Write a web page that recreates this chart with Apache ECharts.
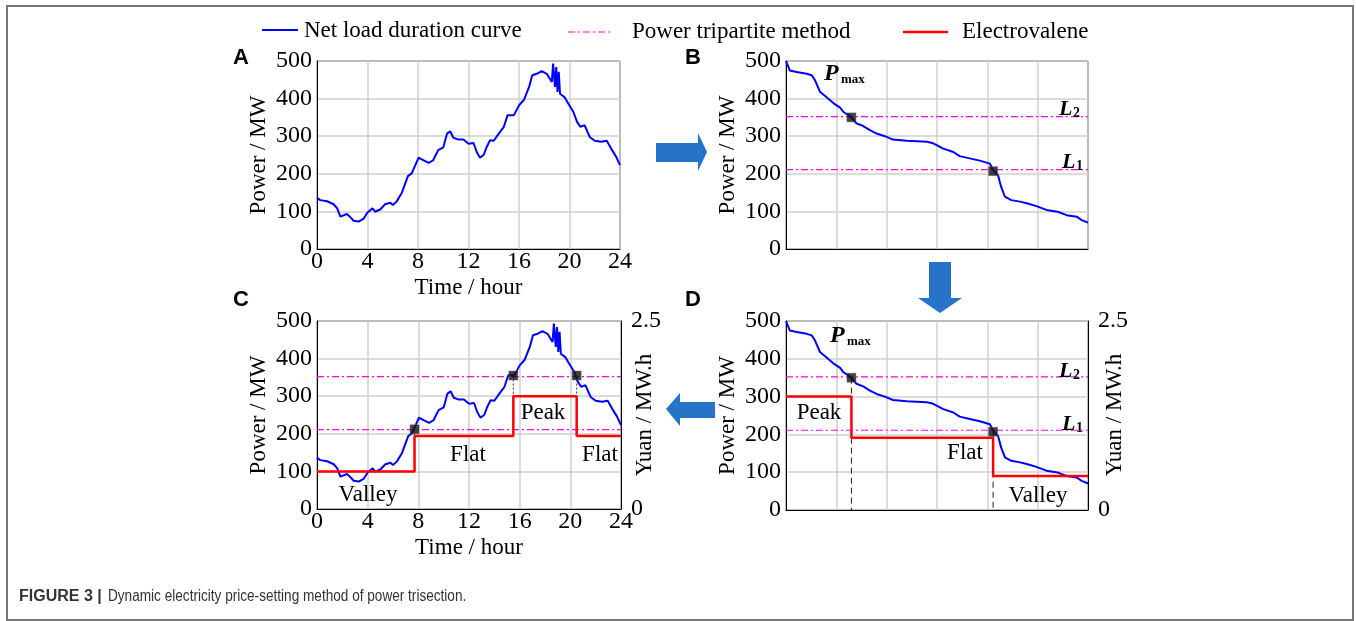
<!DOCTYPE html>
<html><head><meta charset="utf-8">
<script src="https://cdn.jsdelivr.net/npm/echarts@6/dist/echarts.min.js"></script>
<style>html,body{margin:0;padding:0;background:#fff}#c{width:1356px;height:621px}</style>
</head><body><div id="c"></div>
<script>
// ---- data ----
var loadHours = [0,0.26,0.8,1.32,1.6,1.85,2.37,2.6,2.9,3.3,3.7,4.0,4.4,4.6,5.0,5.4,5.8,6.0,6.3,6.7,7.2,7.5,8.05,8.45,8.85,9.2,9.6,10.0,10.3,10.55,10.8,11.2,11.6,12.0,12.4,12.65,12.9,13.2,13.45,13.7,14.0,14.4,14.8,15.1,15.6,16.0,16.4,16.8,17.05,17.4,17.8,18.2,18.6,18.7,18.85,18.95,19.05,19.15,19.25,19.4,19.6,19.9,20.3,20.6,20.85,21.2,21.6,22.0,22.5,22.95,23.3,23.7,24.0];
var loadMW =    [136,130,127,119,108,86,93,86,75,73,81,97,108,99,105,119,123,117,126,148,194,201,243,236,229,236,263,270,307,313,296,291,291,280,282,258,243,250,272,289,288,307,325,356,356,382,397,431,462,466,473,466,444,493,431,484,418,471,413,413,404,387,365,338,325,329,298,288,285,288,267,245,223];
var durHours = [0,0.3,0.85,1.64,2.04,2.3,2.7,3.2,3.76,4.3,4.55,5.16,5.6,6.14,6.67,7.2,7.86,8.5,9.6,11.2,11.7,12.5,13.3,13.8,14.6,15.4,16.2,16.46,16.85,17.1,17.4,17.9,18.6,19.2,19.9,20.7,21.6,22.3,23.1,23.5,24];
var durMW =    [500,475,471,466,462,449,418,404,388,376,365,351,334,327,316,307,300,291,288,285,281,267,258,247,241,235,227,210,196,165,139,130,126,121,114,104,99,90,86,77,70];
var levelL1 = 211, levelL2 = 352;
// panel C price steps (Yuan / MW.h)
var priceC_x = [0,7.7,7.7,15.5,15.5,20.5,20.5,24];
var priceC_y = [0.5,0.5,0.97,0.97,1.5,1.5,0.97,0.97];
// panel D price steps
var priceD_x = [0,5.2,5.2,16.46,16.46,24];
var priceD_y = [1.5,1.5,0.955,0.955,0.45,0.45];
// crossing points
var crossC = [[7.7,212],[15.5,355],[20.5,355]];
var crossBD = [[5.2,350],[16.46,207]];
var guideC = [[[7.7,212],[7.7,193]],[[15.5,355],[15.5,300]],[[20.5,355],[20.5,300]]];
var guideD = [[[5.2,350],[5.2,0]],[[16.46,207],[16.46,0]]];

function zip(a,b){return a.map(function(v,i){return [v,b[i]];});}
var SERIF = "'Liberation Serif','Times New Roman',serif";
var BLUE='#0000ff', PINK='#ff00ff', RED='#ff0000';
var pinkStyle = {color:PINK,width:1.2,type:[7,3,2,3]};

var grids = [
 {left:317,top:61,width:303,height:188},
 {left:786,top:61,width:302,height:188},
 {left:317,top:321,width:304,height:188},
 {left:786,top:321,width:302,height:189}
];
grids.forEach(function(g){g.show=true;g.borderColor='#000';g.borderWidth=1;g.backgroundColor='transparent';});

function xAx(i,labels){
  return {type:'value',gridIndex:i,min:0,max:24,interval:4,
    name:labels?'Time / hour':'',nameLocation:'middle',nameGap:27,
    nameTextStyle:{fontFamily:SERIF,fontSize:23,color:'#000'},
    axisLine:{lineStyle:{color:'#000'}},axisTick:{show:false},
    axisLabel:{show:labels,fontFamily:SERIF,fontSize:24,color:'#000',margin:1},
    splitLine:{lineStyle:{color:'#d0d0d0',width:1.5}}};
}
function yAx(i){
  return {type:'value',gridIndex:i,min:0,max:500,interval:100,
    name:'Power / MW',nameLocation:'middle',nameGap:47,nameRotate:90,
    nameTextStyle:{fontFamily:SERIF,fontSize:23,color:'#000'},
    axisLine:{lineStyle:{color:'#000'}},axisTick:{show:false},
    axisLabel:{fontFamily:SERIF,fontSize:24,color:'#000',margin:5},
    splitLine:{lineStyle:{color:'#d0d0d0',width:1.5}}};
}
function yRight(i){
  return {type:'value',gridIndex:i,position:'right',min:0,max:2.5,interval:2.5,
    axisLine:{lineStyle:{color:'#000'}},axisTick:{show:false},
    axisLabel:{fontFamily:SERIF,fontSize:24,color:'#000',margin:10,
      formatter:function(v){return v===0?'0':v.toFixed(1);}},
    splitLine:{show:false}};
}

var series = [];
function blue(xi,yi,d){series.push({type:'line',xAxisIndex:xi,yAxisIndex:yi,data:d,showSymbol:false,lineStyle:{color:BLUE,width:2},z:3,silent:true});}
function pinks(xi,yi){[levelL1,levelL2].forEach(function(L){series.push({type:'line',xAxisIndex:xi,yAxisIndex:yi,data:[[0,L],[24,L]],showSymbol:false,lineStyle:pinkStyle,z:2,silent:true});});}
function marks(xi,yi,d){series.push({type:'scatter',xAxisIndex:xi,yAxisIndex:yi,data:d,symbol:'rect',symbolSize:9,itemStyle:{color:'#111',borderColor:'#666',borderWidth:0.6},z:6,silent:true});}
function red(xi,yi,xs,ys){series.push({type:'line',xAxisIndex:xi,yAxisIndex:yi,data:zip(xs,ys),showSymbol:false,lineStyle:{color:RED,width:2.5},z:4,silent:true});}
function guides(xi,yi,segs,type,color){segs.forEach(function(s){series.push({type:'line',xAxisIndex:xi,yAxisIndex:yi,data:s,showSymbol:false,lineStyle:{color:color,width:1,type:type},z:3,silent:true});});}

var load = zip(loadHours,loadMW), dur = zip(durHours,durMW);
// A
blue(0,0,load);
// B
pinks(1,1); blue(1,1,dur); marks(1,1,crossBD);
// C
pinks(2,2); blue(2,2,load); red(2,3,priceC_x,priceC_y); guides(2,2,guideC,[2,2],'#333'); marks(2,2,crossC);
// D
pinks(3,4); blue(3,4,dur); guides(3,4,guideD,[6,4],'#222'); red(3,5,priceD_x,priceD_y); marks(3,4,crossBD);

function T(text,x,y,font,align,extra){
  var o={type:'text',x:x,y:y,style:{text:text,font:font,fill:'#000',textAlign:align||'center',textVerticalAlign:'middle'},z:50};
  if(extra){for(var k in extra)o[k]=extra[k];}
  return o;
}
var F23 = '23px '+SERIF;
var PI = 'italic bold 24px '+SERIF, SUB='bold 13px '+SERIF, SUBN='bold 14px '+SERIF, LI='italic bold 22px '+SERIF;
var PANEL = 'bold 22px "Liberation Sans",Arial,sans-serif';
var ARROW = '#2673c8';

var graphic = [
  {type:'rect',shape:{x:7,y:6,width:1346,height:614},style:{fill:'none',stroke:'#777',lineWidth:2},z:0},
  // legend
  {type:'line',shape:{x1:262,y1:30,x2:298,y2:30},style:{stroke:BLUE,lineWidth:2}},
  T('Net load duration curve',304,31,F23,'left'),
  {type:'line',shape:{x1:568,y1:32,x2:610,y2:32},style:{stroke:PINK,lineWidth:1.2,lineDash:[7,3,2,3]}},
  T('Power tripartite method',632,32,F23,'left'),
  {type:'line',shape:{x1:903,y1:32,x2:948,y2:32},style:{stroke:RED,lineWidth:2.5}},
  T('Electrovalene',962,32,F23,'left'),
  // panel letters
  T('A',241,58,PANEL),T('B',693,58,PANEL),T('C',241,300,PANEL),T('D',693,300,PANEL),
  // right axis names
  T('Yuan / MW.h',645,415,F23,'center',{rotation:Math.PI/2}),
  T('Yuan / MW.h',1115,415,F23,'center',{rotation:Math.PI/2}),
  // B annotations
  T('P',824,74,PI,'left'),T('max',841,80,SUB,'left'),
  T('L',1059,109,LI,'left'),T('2',1073,113,SUBN,'left'),
  T('L',1062,162,LI,'left'),T('1',1076,166,SUBN,'left'),
  // D annotations
  T('P',830,336,PI,'left'),T('max',847,342,SUB,'left'),
  T('L',1059,371,LI,'left'),T('2',1073,375,SUBN,'left'),
  T('L',1062,424,LI,'left'),T('1',1076,428,SUBN,'left'),
  T('Peak',819,413,F23),T('Flat',965,453,F23),T('Valley',1038,496,F23),
  // C annotations
  T('Valley',368,495,F23),T('Flat',468,455,F23),T('Peak',543,413,F23),T('Flat',600,455,F23),
  // arrows
  {type:'polygon',shape:{points:[[656,143],[698,143],[698,133],[707,152],[698,171],[698,162],[656,162]]},style:{fill:ARROW}},
  {type:'polygon',shape:{points:[[929,262],[951,262],[951,298],[962,298],[940,313],[918,298],[929,298]]},style:{fill:ARROW}},
  {type:'polygon',shape:{points:[[715,402],[680,402],[680,393],[666,409],[680,426],[680,418],[715,418]]},style:{fill:ARROW}},
  // caption
  T('FIGURE 3 |',19,597,'bold 16px "Liberation Sans",Arial,sans-serif','left'),
  T('Dynamic electricity price-setting method of power trisection.',108,597,'16px "Liberation Sans",Arial,sans-serif','left',{scaleX:0.85,originX:0})
];
graphic[graphic.length-1].style.fill='#333';graphic[graphic.length-2].style.fill='#333';

var chart = echarts.init(document.getElementById('c'),null,{renderer:'canvas'});
chart.setOption({
  animation:false,
  backgroundColor:'#fff',
  grid:grids,
  xAxis:[xAx(0,true),xAx(1,false),xAx(2,true),xAx(3,false)],
  yAxis:[yAx(0),yAx(1),yAx(2),yRight(2),yAx(3),yRight(3)],
  series:series,
  graphic:graphic
});
</script></body></html>
